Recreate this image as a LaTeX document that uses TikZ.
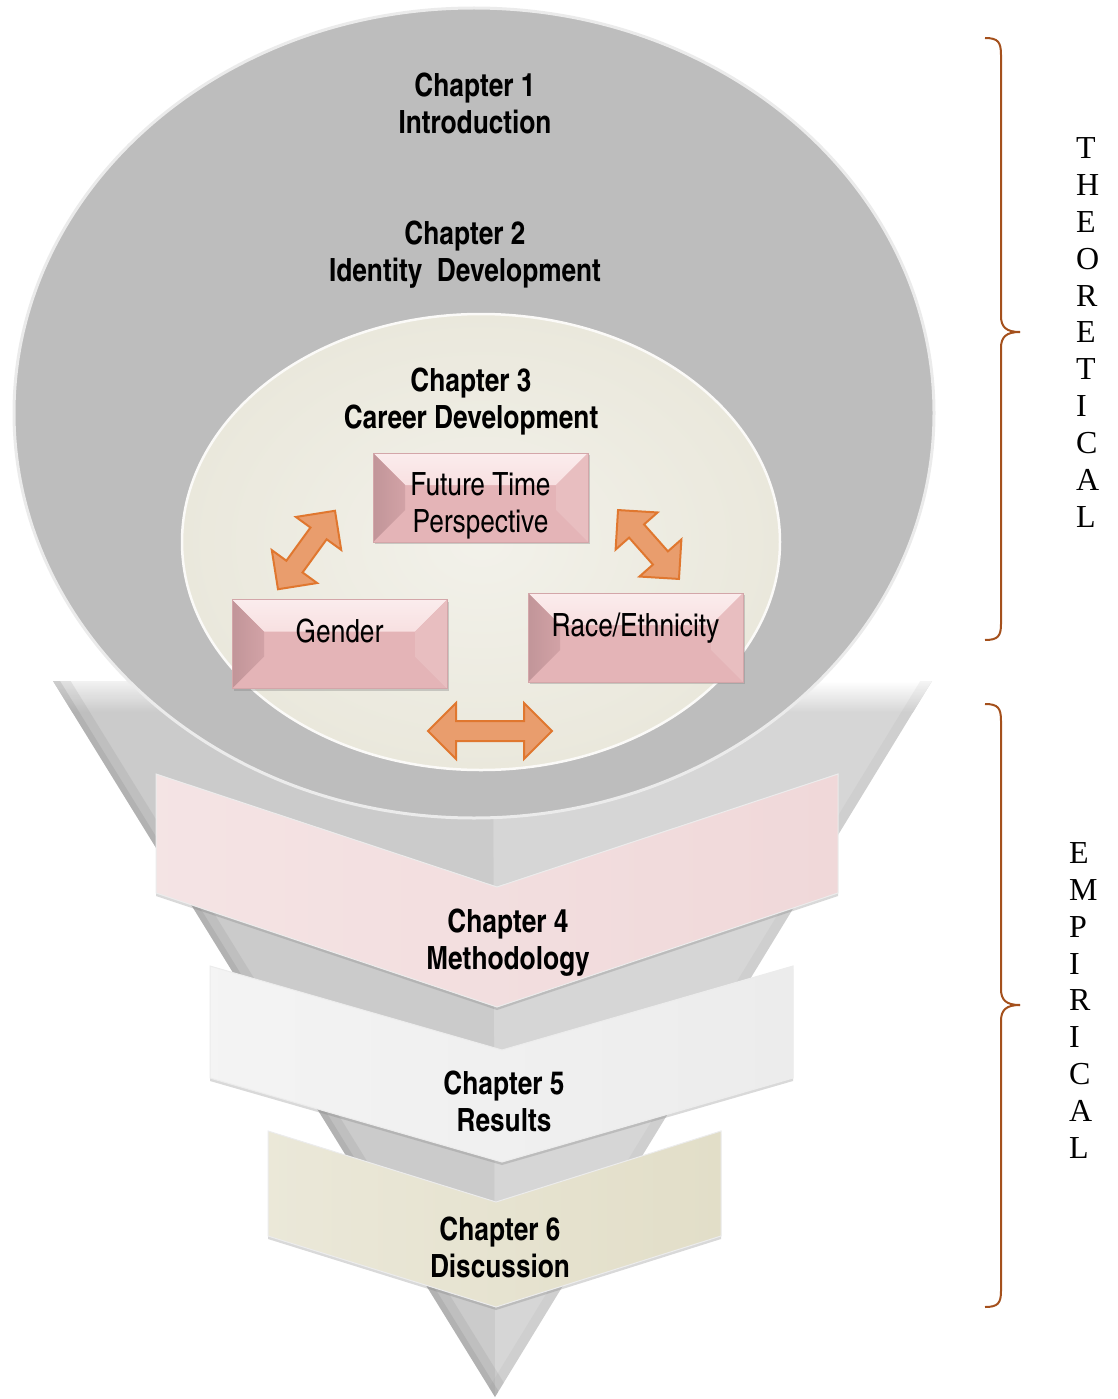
\documentclass[tikz,border=0pt]{standalone}
\usepackage{fontspec}
\setmainfont{Liberation Serif}
\newfontfamily\cnsans{texgyreheroscn}[Extension=.otf,UprightFont=*-regular,BoldFont=*-bold]
\usetikzlibrary{shapes.arrows,shadows}

\definecolor{rimgray}{HTML}{BDBDBD}
\definecolor{funnelgray}{HTML}{D6D6D6}
\definecolor{cream}{HTML}{EAE8DC}
\definecolor{boxface}{HTML}{E4B4B7}
\definecolor{boxtop}{HTML}{F8E0E1}
\definecolor{boxleft}{HTML}{D2A2A6}
\definecolor{boxright}{HTML}{E8BEC0}
\definecolor{boxline}{HTML}{D3A6A9}
\definecolor{arrowfill}{HTML}{E99D6D}
\definecolor{arrowline}{HTML}{E0772F}
\definecolor{chevpink}{HTML}{F0D8D9}
\definecolor{chevwhite}{HTML}{ECECEC}
\definecolor{chevbeige}{HTML}{E2DEC8}
\definecolor{bracecol}{HTML}{A4501C}

\tikzset{
  chaptext/.style={font=\cnsans\bfseries\fontsize{32}{37}\selectfont, align=center, inner sep=0pt},
  bevbox/.style={draw=boxline, fill=boxface, line width=1pt, minimum width=215pt, minimum height=89pt,
    inner sep=0pt, align=center, font=\cnsans\fontsize{32}{37}\selectfont,
    drop shadow={opacity=.35, shadow xshift=2pt, shadow yshift=-2pt},
    path picture={
      \coordinate (pnw) at (path picture bounding box.north west);
      \coordinate (pne) at (path picture bounding box.north east);
      \coordinate (psw) at (path picture bounding box.south west);
      \coordinate (pse) at (path picture bounding box.south east);
      \shade[top color=boxtop!60!white, bottom color=boxtop] (pnw) -- (pne) -- ([shift={(-32pt,-32pt)}]pne) -- ([shift={(32pt,-32pt)}]pnw) -- cycle;
      \shade[left color=boxleft!92!black, right color=boxleft] (pnw) -- ([shift={(32pt,-32pt)}]pnw) -- ([shift={(32pt,32pt)}]psw) -- (psw) -- cycle;
      \fill[boxright] (pne) -- ([shift={(-32pt,-32pt)}]pne) -- ([shift={(-32pt,32pt)}]pse) -- (pse) -- cycle;
    }},
  dblarrow/.style={double arrow, draw=arrowline, fill=arrowfill, line width=2pt,
    inner xsep=0pt, inner ysep=9pt, double arrow head extend=18pt},
  chevron/.style={draw=white!85!gray, line width=1pt,
    drop shadow={opacity=.3, shadow xshift=0pt, shadow yshift=-3pt}},
  bracestroke/.style={draw=bracecol, line width=2pt},
  vertword/.style={font=\fontsize{32}{36.9}\selectfont, align=left, inner sep=0pt, anchor=west}
}

\begin{document}
\begin{tikzpicture}[x=1pt,y=-1pt]
\useasboundingbox (0,0) rectangle (1117,1399);

% funnel
\fill[funnelgray] (53,681) -- (932,681) -- (495,1397) -- cycle;
\begin{scope}
\clip (53,681) -- (932,681) -- (495,1397) -- cycle;
\shade[top color=white, bottom color=funnelgray] (0,681) rectangle (1117,712);
\fill[black, opacity=.05] (53,681) -- (493,681) -- (495,1397) -- cycle;
\draw[gray, line width=30pt, opacity=.15] (53,681) -- (495,1397);
\draw[gray, line width=12pt, opacity=.2] (53,681) -- (495,1397);
\draw[gray, line width=20pt, opacity=.08] (932,681) -- (495,1397);
\end{scope}

% theory circles
\fill[rimgray] (474,413) ellipse [x radius=460, y radius=405];
\draw[white!70!rimgray, line width=3pt] (474,413) ellipse [x radius=460, y radius=405];
\shade[inner color=cream!60!white, outer color=cream] (481,542) ellipse [x radius=299, y radius=228];
\draw[white!80!cream, line width=2.5pt] (481,542) ellipse [x radius=299, y radius=228];

\node[chaptext] (ch1) at (475,103.5) {Chapter 1\\Introduction};
\node[chaptext] (ch2) at (465,254.5) {Chapter 2\\Identity\ \ Development};
\node[chaptext] (ch3) at (471,401.5) {Chapter 3\\Career Development};

\node[bevbox] (ftp) at (480.5,497.5) {\rule{0pt}{39pt}Future Time\\Perspective};
\node[bevbox, text depth=26pt] (gender) at (339.5,644) {Gender};
\node[bevbox, text depth=26pt] (race) at (635.5,637.5) {Race/Ethnicity};

\node[dblarrow, minimum height=124pt] (arrbot) at (490,731) {};
\node[dblarrow, minimum height=97pt, rotate=54] (arrleft) at (306.5,550) {};
\node[dblarrow, minimum height=92pt, rotate=-48.5] (arrright) at (648.5,544.5) {};

% empirical chevrons
\shadedraw[chevron, left color=chevpink!70!white, right color=chevpink] (156,774) -- (497,887) -- (838,774) -- (838,893) -- (497,1007) -- (156,893) -- cycle;
\node[chaptext] (ch4) at (508,943) {Chapter 4\\Methodology};
\shadedraw[chevron, left color=chevwhite!60!white, right color=chevwhite] (210,966) -- (502,1050) -- (793,966) -- (793,1078) -- (502,1162) -- (210,1078) -- cycle;
\node[chaptext] (ch5) at (504,1101.5) {Chapter 5\\Results};
\shadedraw[chevron, left color=chevbeige!70!white, right color=chevbeige] (268,1131) -- (496,1202) -- (721,1131) -- (721,1236) -- (496,1307) -- (268,1236) -- cycle;
\node[chaptext] (ch6) at (500,1247) {Chapter 6\\Discussion};

% braces
\draw[bracestroke] (985,38) .. controls (998,38) and (1001,42) .. (1001,55) -- (1001,316) .. controls (1001,327) and (1006,332) .. (1020,332);
\draw[bracestroke] (1020,332) .. controls (1006,332) and (1001,337) .. (1001,348) -- (1001,624) .. controls (1001,636) and (998,640) .. (985,640);
\draw[bracestroke] (985,704) .. controls (998,704) and (1001,708) .. (1001,721) -- (1001,989) .. controls (1001,1000) and (1006,1005) .. (1020,1005);
\draw[bracestroke] (1020,1005) .. controls (1006,1005) and (1001,1010) .. (1001,1021) -- (1001,1291) .. controls (1001,1303) and (998,1307) .. (985,1307);

\node[vertword] (theo) at (1076,332.5) {T\\H\\E\\O\\R\\E\\T\\I\\C\\A\\L};
\node[vertword] (emp) at (1069,1000.5) {E\\M\\P\\I\\R\\I\\C\\A\\L};
\end{tikzpicture}
\end{document}
